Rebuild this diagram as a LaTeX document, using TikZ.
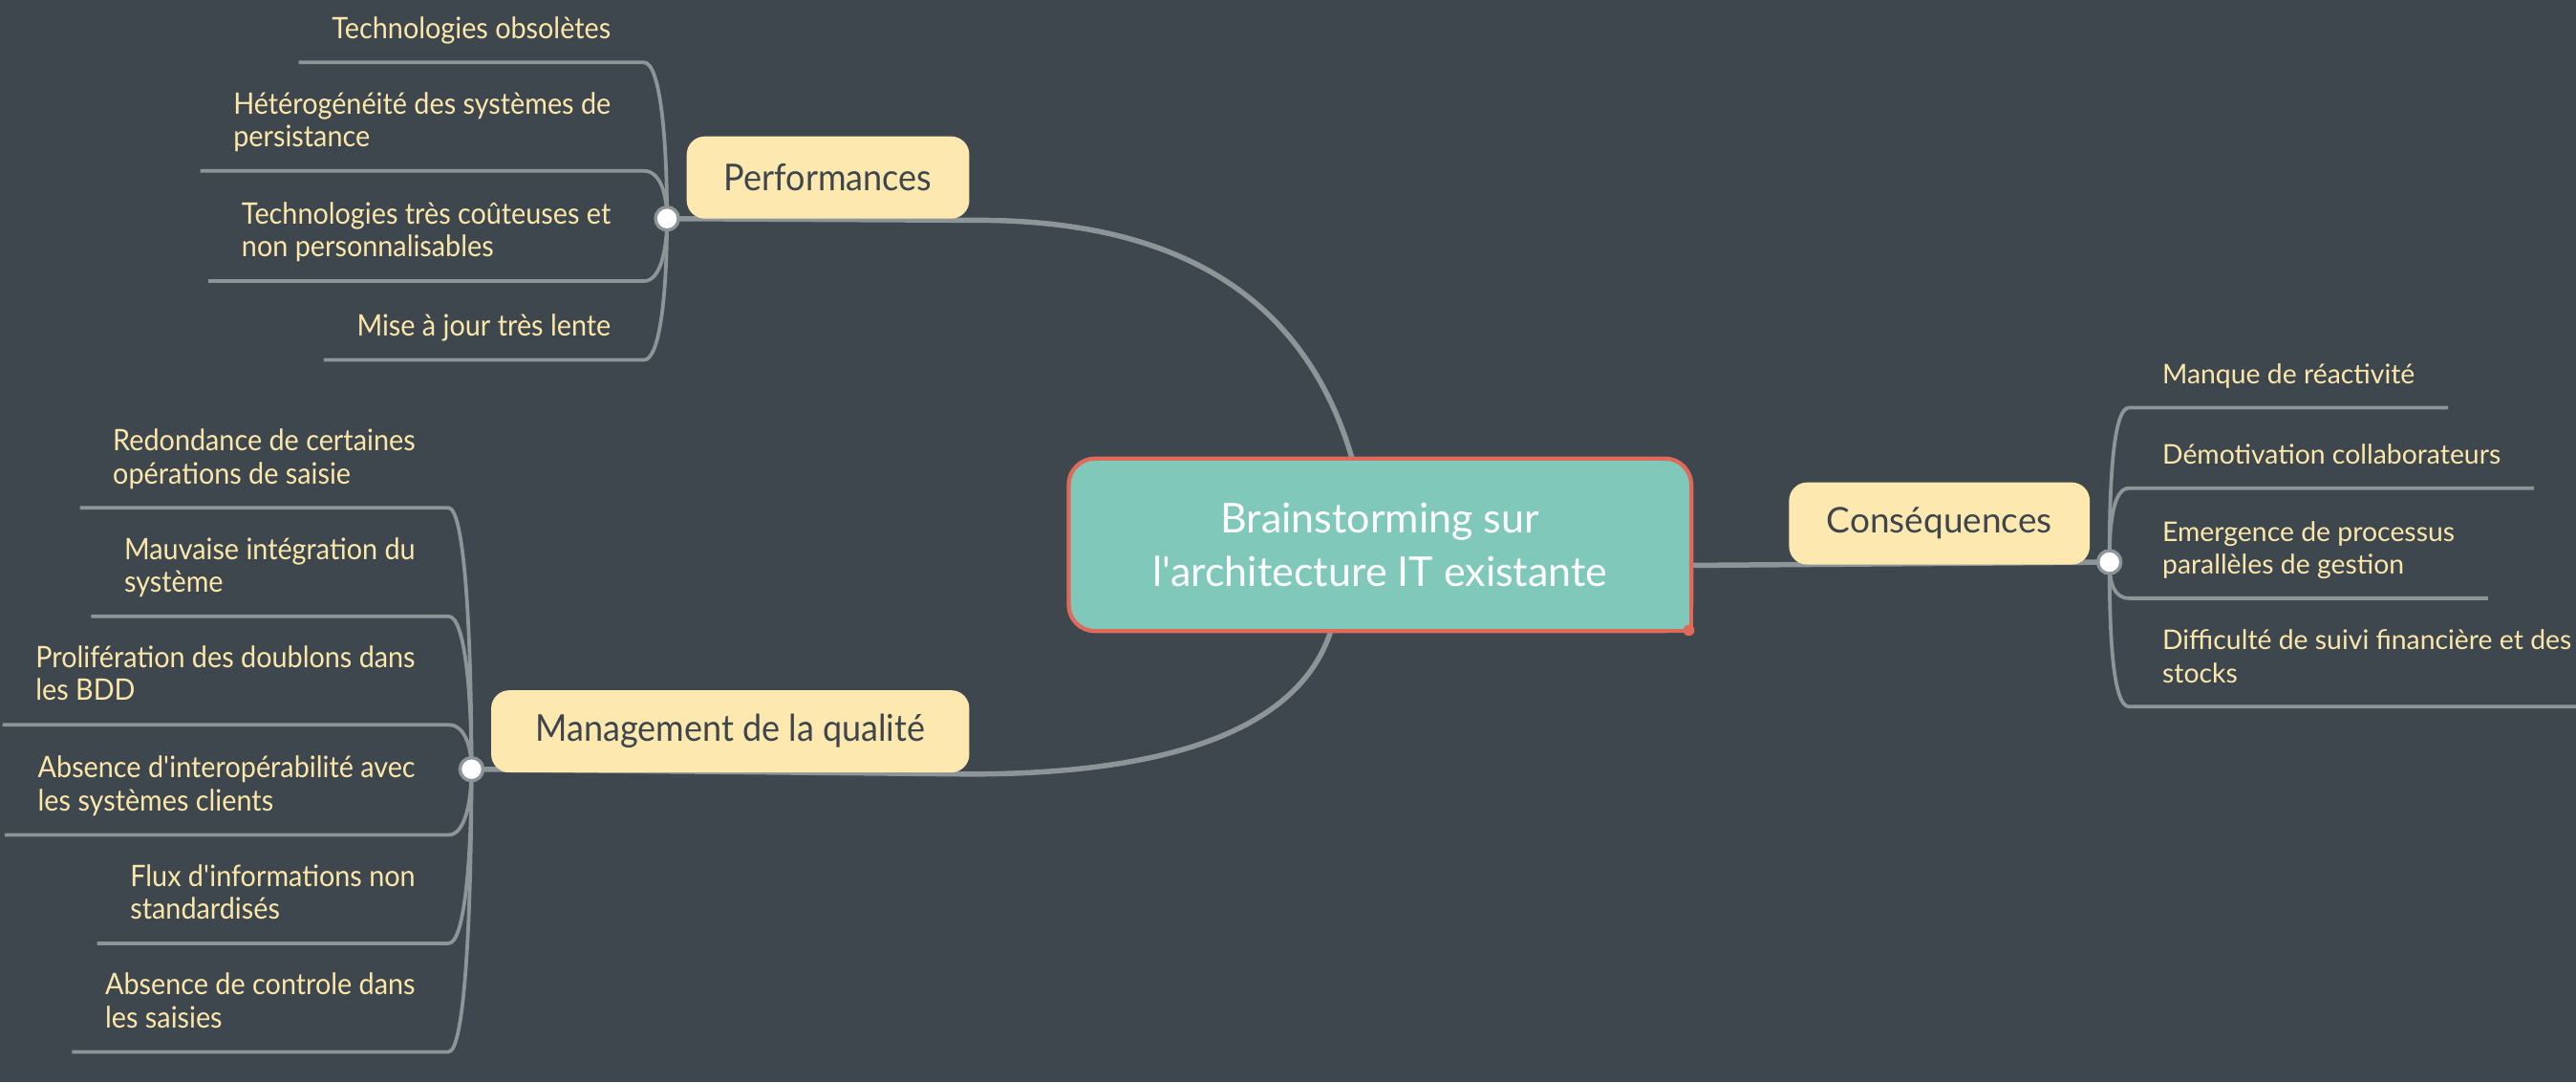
\documentclass[tikz,border=0pt]{standalone}
\usepackage{fontspec}
\setmainfont{Lato}
\newfontfamily\condfont[FakeStretch=0.93]{Lato}
\usetikzlibrary{backgrounds,calc}
\definecolor{bgc}{HTML}{3E464E}
\definecolor{centralfill}{HTML}{80C9BA}
\definecolor{rimred}{HTML}{E06A5A}
\definecolor{topicfill}{HTML}{FDE9AF}
\definecolor{topictext}{HTML}{3E454C}
\definecolor{leaftext}{HTML}{FBE7A9}
\definecolor{wire}{HTML}{8D9598}
\tikzset{
 centralbox/.style={draw=rimred, line width=2.5pt, outer sep=0pt, fill=centralfill, rounded corners=16pt, minimum width=379pt, minimum height=105pt, align=center, text=white, font=\fontsize{25}{32}\selectfont, inner sep=0pt},
 topicbox/.style={fill=topicfill, rounded corners=11pt, minimum height=50pt, inner sep=0pt, text=topictext},
 hubdot/.style={circle, fill=white, draw=wire, line width=2pt, minimum size=14pt, inner sep=0pt},
 leafL/.style={anchor=south east, inner xsep=20pt, inner ysep=8.5pt, align=left, text=leaftext, font=\condfont\fontsize{18}{20}\selectfont, execute at end node=\strut},
 leafR/.style={anchor=south west, inner xsep=20pt, inner ysep=8.5pt, align=left, text=leaftext, font=\fontsize{16.5}{20}\selectfont, execute at end node=\strut},
 mainwire/.style={draw=wire, line width=3.2pt},
 leafwire/.style={draw=wire, line width=2.2pt},
 fanL/.style={to path={.. controls ($(\tikztostart)!0.5!(\tikztostart|-\tikztotarget)$) and ($(\tikztotarget)+(10,0)$) .. (\tikztotarget)}},
 fanR/.style={to path={.. controls ($(\tikztostart)!0.5!(\tikztostart|-\tikztotarget)$) and ($(\tikztotarget)+(-10,0)$) .. (\tikztotarget)}},
}
\begin{document}
\begin{tikzpicture}[x=1pt,y=-1pt]
\useasboundingbox (0,0) rectangle (1568,658.38);
% central
\node[centralbox] (c) at (840,331.5) {Brainstorming sur\\l\textquotesingle architecture IT existante};
\fill[centralfill] ([shift={(-20pt,20pt)}]c.south east) rectangle (c.south east);
\draw[rimred, line width=2.5pt] ([yshift=20pt]c.south east) -- (c.south east) -- ([xshift=-20pt]c.south east);
\fill[rimred] ([shift={(-1.5pt,0.5pt)}]c.south east) circle (3.4);
% topics
\node[topicbox, minimum width=172pt, font=\condfont\fontsize{22.5}{24}\selectfont] (perf) at (504,108) {Performances};
\node[topicbox, minimum width=291pt, font=\condfont\fontsize{22.5}{24}\selectfont] (mgmt) at (444.5,445) {Management de la qualité};
\node[topicbox, minimum width=183pt, font=\fontsize{21.5}{24}\selectfont] (cons) at (1180.5,318.5) {Conséquences};
% hubs
\node[hubdot] (pc) at (406,133) {};
\node[hubdot] (mc) at (287,468) {};
\node[hubdot] (cc) at (1284,342) {};
% leaves: Performances
\node[leafL] (p1) at (392,38) {Technologies obsolètes};
\node[leafL] (p2) at (392,104) {Hétérogénéité des systèmes de\\persistance};
\node[leafL] (p3) at (392,171) {Technologies très coûteuses et\\non personnalisables};
\node[leafL] (p4) at (392,219) {Mise à jour très lente};
% leaves: Management
\node[leafL] (m1) at (273,309) {Redondance de certaines\\opérations de saisie};
\node[leafL] (m2) at (273,375) {Mauvaise intégration du\\système};
\node[leafL] (m3) at (273,441) {Prolifération des doublons dans\\les BDD};
\node[leafL] (m4) at (273,508) {Absence d\textquotesingle interopérabilité avec\\les systèmes clients};
\node[leafL] (m5) at (273,574) {Flux d\textquotesingle informations non\\standardisés};
\node[leafL] (m6) at (273,640) {Absence de controle dans\\les saisies};
% leaves: Conséquences
\node[leafR] (r1) at (1296,248) {Manque de réactivité};
\node[leafR] (r2) at (1296,297) {Démotivation collaborateurs};
\node[leafR] (r3) at (1296,364) {Emergence de processus\\parallèles de gestion};
\node[leafR] (r4) at (1296,430) {Difficulté de suivi financière et des\\stocks};
\begin{scope}[on background layer]
\fill[bgc] (0,0) rectangle (1568,658.38);
\draw[mainwire] ([xshift=-17pt]c.north) .. controls (800,200) and (740,134) .. (595,134) -- (pc.center);
\draw[mainwire] ([xshift=-30pt]c.south) .. controls (792,440) and (720,471) .. (590,471) -- (mc.center);
\draw[mainwire] ([yshift=-12.5pt]c.east) -- (cc.center);
\foreach \n in {p1,p2,p3,p4}
  \draw[leafwire] (pc.center) to[fanL] (\n.south east) -- (\n.south west);
\foreach \n in {m1,m2,m3,m4,m5,m6}
  \draw[leafwire] (mc.center) to[fanL] (\n.south east) -- (\n.south west);
\foreach \n in {r1,r2,r3,r4}
  \draw[leafwire] (cc.center) to[fanR] (\n.south west) -- (\n.south east);
\end{scope}
\end{tikzpicture}
\end{document}
